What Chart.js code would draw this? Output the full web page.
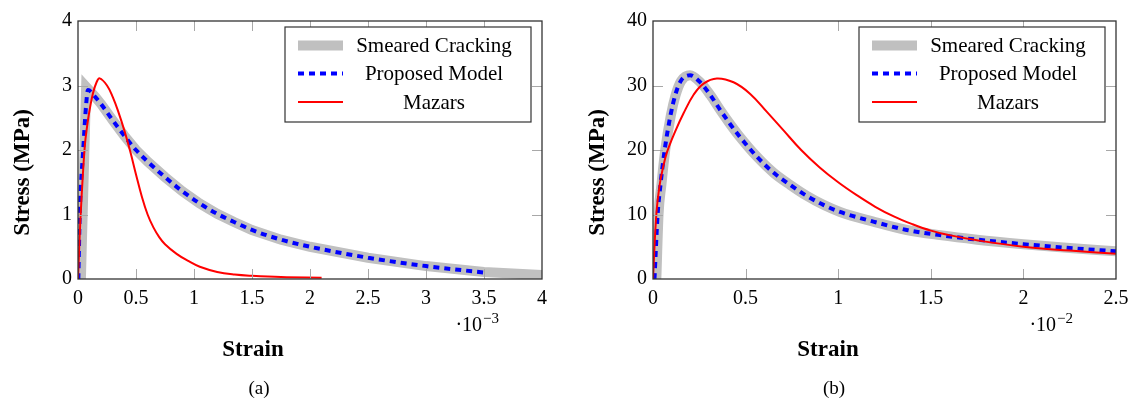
<!DOCTYPE html>
<html>
<head>
<meta charset="utf-8">
<script src="https://cdn.jsdelivr.net/npm/chart.js@4.4.1/dist/chart.umd.min.js"></script>
<style>
  body { margin: 0; background: #fff; }
  .panel { position: absolute; top: 0; width: 564px; height: 399px; }
</style>
</head>
<body>
<div class="panel" style="left:0"><canvas id="chartA" width="564" height="399"></canvas></div>
<div class="panel" style="left:564px"><canvas id="chartB" width="564" height="399"></canvas></div>
<script>
// Series names (legend order)
const seriesNames = ['Smeared Cracking', 'Proposed Model', 'Mazars'];

// Axis ticks, panel (a): strain x 10^-3
const xTicksA = [0, 0.5, 1, 1.5, 2, 2.5, 3, 3.5, 4];
const xTickLabelsA = ['0', '0.5', '1', '1.5', '2', '2.5', '3', '3.5', '4'];
const yTicksA = [0, 1, 2, 3, 4];
const yTickLabelsA = ['0', '1', '2', '3', '4'];

// Axis ticks, panel (b): strain x 10^-2
const xTicksB = [0, 0.5, 1, 1.5, 2, 2.5];
const xTickLabelsB = ['0', '0.5', '1', '1.5', '2', '2.5'];
const yTicksB = [0, 10, 20, 30, 40];
const yTickLabelsB = ['0', '10', '20', '30', '40'];

// Panel (a) data
const strainSmearedA = [0.025, 0.07, 0.15, 0.2, 0.3, 0.4, 0.5, 0.6, 0.75, 0.9, 1.05, 1.2, 1.35, 1.5, 1.75, 2.0, 2.5, 3.0, 3.5, 4.0];
const stressSmearedA = [0, 2.98, 2.82, 2.71, 2.46, 2.22, 2.0, 1.82, 1.58, 1.36, 1.17, 1.01, 0.88, 0.76, 0.61, 0.5, 0.33, 0.2, 0.11, 0.06];
const strainProposedA = [0.003, 0.015, 0.045, 0.07, 0.086, 0.15, 0.2, 0.3, 0.4, 0.5, 0.6, 0.75, 0.9, 1.05, 1.2, 1.35, 1.5, 1.75, 2.0, 2.5, 3.0, 3.5];
const stressProposedA = [0, 1.0, 2.0, 2.7, 2.93, 2.82, 2.71, 2.46, 2.22, 2.0, 1.82, 1.58, 1.36, 1.17, 1.01, 0.88, 0.76, 0.61, 0.5, 0.33, 0.2, 0.1];
const strainMazarsA = [0, 0.023, 0.058, 0.081, 0.1, 0.129, 0.16, 0.187, 0.25, 0.3, 0.35, 0.4, 0.45, 0.5, 0.55, 0.6, 0.65, 0.7, 0.75, 0.85, 0.95, 1.05, 1.2, 1.35, 1.5, 1.75, 2.1];
const stressMazarsA = [0, 1.0, 2.05, 2.4, 2.62, 2.88, 3.05, 3.11, 3.0, 2.82, 2.58, 2.3, 1.98, 1.62, 1.28, 1.0, 0.8, 0.65, 0.54, 0.39, 0.28, 0.19, 0.11, 0.07, 0.05, 0.03, 0.02];

// Panel (b) data
const strainSmearedB = [0.018, 0.03, 0.045, 0.066, 0.096, 0.122, 0.152, 0.2, 0.255, 0.31, 0.363, 0.417, 0.47, 0.56, 0.65, 0.74, 0.83, 0.92, 1.01, 1.19, 1.37, 1.55, 1.75, 2.0, 2.25, 2.5];
const stressSmearedB = [0, 10, 14.5, 20, 25.3, 28.5, 30.7, 31.6, 30.5, 28.5, 26.2, 24.0, 22.0, 19.0, 16.5, 14.6, 12.9, 11.5, 10.4, 8.9, 7.6, 6.8, 6.1, 5.4, 4.8, 4.3];
const strainProposedB = [0.008, 0.025, 0.04, 0.063, 0.094, 0.12, 0.15, 0.2, 0.255, 0.31, 0.363, 0.417, 0.47, 0.56, 0.65, 0.74, 0.83, 0.92, 1.01, 1.19, 1.37, 1.55, 1.75, 2.0, 2.25, 2.5];
const stressProposedB = [0, 10, 14.5, 20, 25.3, 28.5, 30.7, 31.6, 30.5, 28.5, 26.2, 24.0, 22.0, 19.0, 16.5, 14.6, 12.9, 11.5, 10.4, 8.9, 7.6, 6.8, 6.1, 5.4, 4.8, 4.3];
const strainMazarsB = [0, 0.018, 0.036, 0.055, 0.076, 0.12, 0.165, 0.22, 0.273, 0.345, 0.435, 0.525, 0.615, 0.7, 0.8, 0.9, 1.0, 1.1, 1.2, 1.3, 1.4, 1.5, 1.6, 1.75, 2.0, 2.25, 2.5];
const stressMazarsB = [0, 10, 14.6, 17.4, 19.7, 22.9, 25.7, 28.6, 30.3, 31.1, 30.5, 28.7, 25.9, 23.2, 20.0, 17.3, 15.0, 13.0, 11.2, 9.7, 8.5, 7.5, 6.8, 6.0, 5.0, 4.4, 3.9];

const serif = "'Liberation Serif', 'Times New Roman', serif";

// line styles: gray band, blue dotted, red solid
const lineStyles = [
  { borderColor: '#c0c0c0', borderWidth: 10, order: 2 },
  { borderColor: '#0000ff', borderWidth: 4, borderDash: [6, 5], borderCapStyle: 'butt', order: 1 },
  { borderColor: '#ff0000', borderWidth: 2, order: 0 }
];

function makeSeries(xs, ys, i, extra) {
  return Object.assign({
    label: seriesNames[i],
    data: xs.map((x, k) => ({ x: x, y: ys[k] })),
    pointRadius: 0,
    fill: false,
    cubicInterpolationMode: 'monotone',
    clip: 0
  }, lineStyles[i], extra || {});
}

// pgfplots-like box, inward ticks, legend and extra labels
const pgfBox = {
  id: 'pgfBox',
  afterDatasetsDraw(chart, args, opts) {
    const ctx = chart.ctx;
    const a = chart.chartArea;
    const xs = chart.scales.x, ys = chart.scales.y;
    ctx.save();

    // inward tick marks
    ctx.strokeStyle = '#a8a8a8';
    ctx.lineWidth = 1;
    ctx.beginPath();
    xs.ticks.forEach(t => {
      if (t.value === xs.min || t.value === xs.max) return;
      const px = Math.round(xs.getPixelForValue(t.value)) + 0.5;
      ctx.moveTo(px, a.bottom); ctx.lineTo(px, a.bottom - 10);
      ctx.moveTo(px, a.top); ctx.lineTo(px, a.top + 10);
    });
    ys.ticks.forEach(t => {
      if (t.value === ys.min || t.value === ys.max) return;
      const py = Math.round(ys.getPixelForValue(t.value)) + 0.5;
      ctx.moveTo(a.left, py); ctx.lineTo(a.left + 10, py);
      ctx.moveTo(a.right, py); ctx.lineTo(a.right - 10, py);
    });
    ctx.stroke();

    // frame
    ctx.strokeStyle = '#333';
    ctx.lineWidth = 1.3;
    ctx.strokeRect(a.left, a.top, a.right - a.left, a.bottom - a.top);

    // legend
    const bw = 246, bh = 95;
    const bx = a.right - 11 - bw, by = a.top + 6;
    ctx.fillStyle = '#fff';
    ctx.fillRect(bx, by, bw, bh);
    ctx.strokeStyle = '#333';
    ctx.lineWidth = 1.2;
    ctx.strokeRect(bx, by, bw, bh);
    const rows = [18.5, 46.5, 75];
    chart.data.datasets.forEach((ds, i) => {
      const ry = by + rows[i];
      ctx.save();
      ctx.strokeStyle = ds.borderColor;
      ctx.lineWidth = ds.borderWidth;
      ctx.lineCap = 'butt';
      ctx.setLineDash(ds.borderDash || []);
      ctx.beginPath();
      ctx.moveTo(bx + 13, ry);
      ctx.lineTo(bx + 58, ry);
      ctx.stroke();
      ctx.restore();
      ctx.fillStyle = '#000';
      ctx.font = '21px ' + serif;
      ctx.textAlign = 'center';
      ctx.textBaseline = 'middle';
      ctx.fillText(ds.label, bx + 149, ry + 1);
    });

    ctx.fillStyle = '#000';
    // y title
    ctx.save();
    ctx.translate(a.left - 55, a.top + 151.5);
    ctx.rotate(-Math.PI / 2);
    ctx.font = 'bold 23px ' + serif;
    ctx.textAlign = 'center';
    ctx.textBaseline = 'middle';
    ctx.fillText('Stress (MPa)', 0, 0);
    ctx.restore();

    // x title
    ctx.font = 'bold 23px ' + serif;
    ctx.textAlign = 'center';
    ctx.textBaseline = 'alphabetic';
    ctx.fillText('Strain', a.left + 175, 356);

    // caption
    ctx.font = '19px ' + serif;
    ctx.fillText(opts.caption, a.left + 181, 394);

    // scale exponent
    ctx.textAlign = 'right';
    ctx.font = '15px ' + serif;
    const ex = a.right - 43;
    ctx.fillText(opts.exponent, ex, 323);
    const ew = ctx.measureText(opts.exponent).width;
    ctx.font = '20px ' + serif;
    ctx.fillText('\u00b710', ex - ew - 1, 331);

    ctx.restore();
  }
};

function makeChart(id, series, xTicks, xLabels, yTicks, yLabels, leftPx, rightPad, caption, exponent) {
  return new Chart(document.getElementById(id), {
    type: 'line',
    data: { datasets: series },
    options: {
      responsive: false,
      animation: false,
      layout: { padding: { left: 0, top: 21, right: rightPad, bottom: 0 } },
      plugins: {
        legend: { display: false },
        tooltip: { enabled: false },
        pgfBox: { caption: caption, exponent: exponent }
      },
      scales: {
        x: {
          type: 'linear',
          min: xTicks[0],
          max: xTicks[xTicks.length - 1],
          afterBuildTicks: s => { s.ticks = xTicks.map(v => ({ value: v })); },
          afterFit: s => { s.height = 120; s.paddingLeft = 0; s.paddingRight = 0; },
          grid: { display: false, drawTicks: false },
          border: { display: false },
          ticks: {
            autoSkip: false, maxRotation: 0, padding: 8, color: '#000',
            font: { family: serif, size: 20 },
            callback: (v, i) => xLabels[i]
          }
        },
        y: {
          type: 'linear',
          min: yTicks[0],
          max: yTicks[yTicks.length - 1],
          afterBuildTicks: s => { s.ticks = yTicks.map(v => ({ value: v })); },
          afterFit: s => { s.width = leftPx; s.paddingTop = 0; s.paddingBottom = 0; },
          grid: { display: false, drawTicks: false },
          border: { display: false },
          ticks: {
            autoSkip: false, padding: 6, color: '#000',
            font: { family: serif, size: 20 },
            callback: (v, i) => yLabels[i]
          }
        }
      }
    },
    plugins: [pgfBox]
  });
}

const smoothRed = { cubicInterpolationMode: 'default', tension: 0.4 };

makeChart('chartA', [
  makeSeries(strainSmearedA, stressSmearedA, 0, { cubicInterpolationMode: 'default', tension: 0, borderJoinStyle: 'miter' }),
  makeSeries(strainProposedA, stressProposedA, 1),
  makeSeries(strainMazarsA, stressMazarsA, 2, smoothRed)
], xTicksA, xTickLabelsA, yTicksA, yTickLabelsA, 78, 22, '(a)', '\u22123');

makeChart('chartB', [
  makeSeries(strainSmearedB, stressSmearedB, 0),
  makeSeries(strainProposedB, stressProposedB, 1),
  makeSeries(strainMazarsB, stressMazarsB, 2, smoothRed)
], xTicksB, xTickLabelsB, yTicksB, yTickLabelsB, 89, 12, '(b)', '\u22122');
</script>
</body>
</html>
